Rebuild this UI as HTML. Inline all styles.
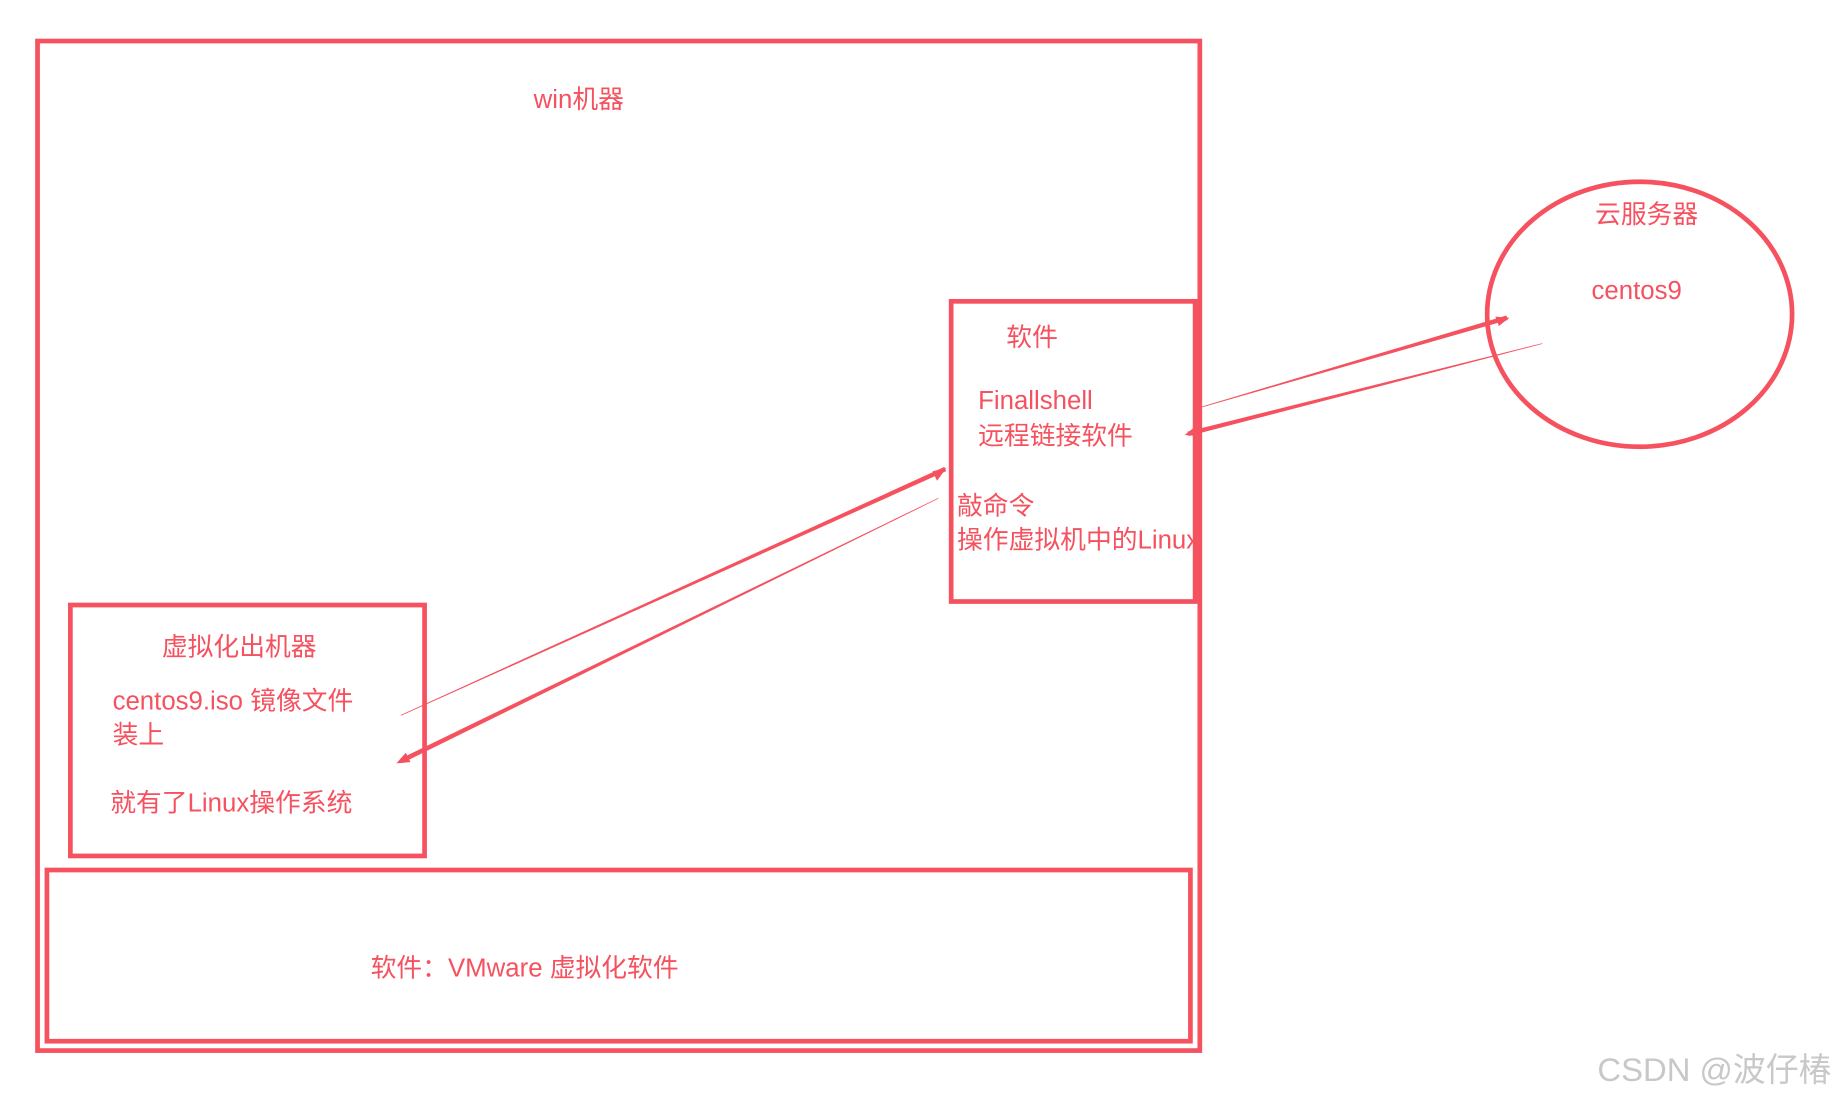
<!DOCTYPE html>
<html><head><meta charset="utf-8"><style>
html,body{margin:0;padding:0;background:#fff;width:1839px;height:1101px;overflow:hidden}
svg{display:block}
text{font-family:"Liberation Sans","Noto Sans CJK SC",sans-serif;fill:#f5515f;font-size:22px}
</style></head><body>
<svg width="1839" height="1101" viewBox="0 0 1568 939" preserveAspectRatio="none">
<g fill="none" stroke="#f5515f" stroke-width="4">
<rect x="32" y="35" width="991" height="861"/>
<rect x="811" y="257" width="208" height="256"/>
<rect x="60" y="516" width="302" height="214"/>
<rect x="40" y="742" width="975" height="146"/>
<ellipse cx="1398" cy="268" rx="130" ry="113"/>
</g>
<g fill="#f5515f">
<polygon points="806.8,401.8 805.2,398.2 341.9,609.7 342.1,610.3"/>
<polygon points="800.1,425.3 799.9,424.7 341.1,647.2 342.9,650.8"/>
<polygon points="1025.1,347.3 1024.9,346.7 1284.4,269.1 1285.6,272.9"/>
<polygon points="1315.1,293.3 1314.9,292.7 1012.5,368.1 1013.5,371.9"/>
<polygon points="807,399 795,402 799,410"/>
<polygon points="338,651 350,650 346,642"/>
<polygon points="1287,271 1275,270 1278,278"/>
<polygon points="1010,371 1022,372 1019,364"/>
</g>
<text x="455" y="92">win机器</text>
<text x="858" y="295">软件</text>
<text x="834" y="349">Finallshell</text>
<text x="834" y="379">远程链接软件</text>
<text x="816" y="439">敲命令</text>
<text x="816" y="468">操作虚拟机中的Linux</text>
<text x="138" y="559">虚拟化出机器</text>
<text x="96" y="605">centos9.iso 镜像文件</text>
<text x="96" y="634">装上</text>
<text x="94" y="692">就有了Linux操作系统</text>
<text x="316" y="833">软件：VMware 虚拟化软件</text>
<text x="1360" y="190">云服务器</text>
<text x="1357" y="255">centos9</text>
<text x="1362" y="922" style="fill:#c8c8c8;font-size:28px">CSDN @波仔椿</text>
</svg>
</body></html>
